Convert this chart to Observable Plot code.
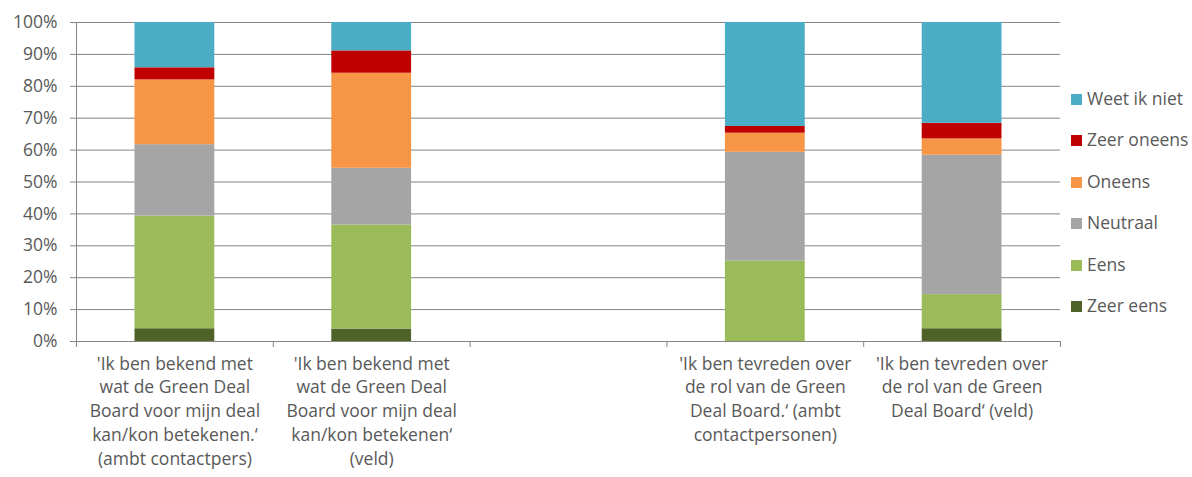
<!DOCTYPE html>
<html>
<head>
<meta charset="utf-8">
<script src="https://cdn.jsdelivr.net/npm/d3@7"></script>
<script src="https://cdn.jsdelivr.net/npm/@observablehq/plot@0.6"></script>
<style>
  html, body { margin: 0; padding: 0; background: #fff; }
  #wrap { position: relative; width: 1192px; height: 477px; font-family: "Open Sans", Lato, sans-serif; }
  #legend { position: absolute; left: 1071px; top: 0; }
  .item { position: absolute; left: 0; white-space: nowrap; font-size: 17.5px; color: #595959; line-height: 22px; }
  .sw { display: inline-block; width: 11px; height: 11px; margin-right: 5px; vertical-align: 0px; }
</style>
</head>
<body>
<div id="wrap"><div id="legend"></div></div>
<script>
const categories = [
  "'Ik ben bekend met\nwat de Green Deal\nBoard voor mijn deal\nkan/kon betekenen.‘\n(ambt contactpers)",
  "'Ik ben bekend met\nwat de Green Deal\nBoard voor mijn deal\nkan/kon betekenen‘\n(veld)",
  "",
  "'Ik ben tevreden over\nde rol van de Green\nDeal Board.‘ (ambt\ncontactpersonen)",
  "'Ik ben tevreden over\nde rol van de Green\nDeal Board‘ (veld)"
];
const answers = ["Zeer eens", "Eens", "Neutraal", "Oneens", "Zeer oneens", "Weet ik niet"];
const colors = ["#4F6228", "#9BBB59", "#A5A5A5", "#F79646", "#C00000", "#4BACC6"];
// values per category (in %), in order of answers
const zeerEens   = [4.0, 3.9, null, 0.0, 4.0];
const eens       = [35.3, 32.6, null, 25.2, 10.7];
const neutraal   = [22.4, 17.8, null, 34.1, 43.7];
const oneens     = [20.3, 29.8, null, 6.0, 5.1];
const zeerOneens = [3.8, 7.0, null, 2.1, 4.9];
const weetIkNiet = [14.2, 8.9, null, 32.6, 31.6];
const yTicks = [0, 0.1, 0.2, 0.3, 0.4, 0.5, 0.6, 0.7, 0.8, 0.9, 1.0];

const series = [zeerEens, eens, neutraal, oneens, zeerOneens, weetIkNiet];
const data = [];
categories.forEach((c, i) => {
  series.forEach((s, j) => {
    if (s[i] != null) data.push({idx: i, answer: answers[j], value: s[i] / 100, order: j});
  });
});
const boundaries = d3.range(categories.length + 1);

const gray = "#868686";
const txt = "#595959";
const fs = "17.5px";

const chart = Plot.plot({
  width: 1192,
  height: 477,
  marginLeft: 76,
  marginRight: 132,
  marginTop: 22,
  marginBottom: 136,
  style: {fontFamily: "'Open Sans', Lato, sans-serif", fontSize: fs, color: txt, background: "#fff"},
  x: {domain: [0, categories.length], axis: null},
  y: {domain: [0, 1], axis: null},
  color: {domain: answers, range: colors},
  marks: [
    Plot.ruleY(yTicks, {y: d => d, x1: 0, x2: categories.length, stroke: gray, strokeWidth: 1, strokeOpacity: 1, insetLeft: -6}),
    Plot.rectY(data, Plot.stackY({
      x1: d => d.idx, x2: d => d.idx + 1, y: "value", fill: "answer", order: answers,
      insetLeft: 58.5, insetRight: 58.5
    })),
    Plot.ruleX([0], {x: d => d, y1: 0, y2: 1, stroke: gray}),
    Plot.ruleX(boundaries, {x: d => d, y1: 0, y2: 0, stroke: gray, insetBottom: -6}),
    Plot.axisY({ticks: yTicks, tickFormat: d => Math.round(d * 100) + "%", tickSize: 0, tickPadding: 19, fill: txt, fontSize: fs, label: null}),
    Plot.text(categories, {x: (d, i) => i + 0.5, y: 0, text: d => d, lineAnchor: "top", dy: 11, lineHeight: 1.37, fill: txt, fontSize: fs, textAnchor: "middle"})
  ]
});
document.getElementById("wrap").prepend(chart);

// legend: top-to-bottom Weet ik niet ... Zeer eens
const legend = document.getElementById("legend");
const legendOrder = answers.slice().reverse();
const legendTop = [87, 128, 170, 211, 253, 294];
legendOrder.forEach((a, k) => {
  const el = document.createElement("div");
  el.className = "item";
  el.style.top = legendTop[k] + "px";
  const sw = document.createElement("span");
  sw.className = "sw";
  sw.style.background = colors[answers.indexOf(a)];
  el.appendChild(sw);
  el.appendChild(document.createTextNode(a));
  legend.appendChild(el);
});
</script>
</body>
</html>
